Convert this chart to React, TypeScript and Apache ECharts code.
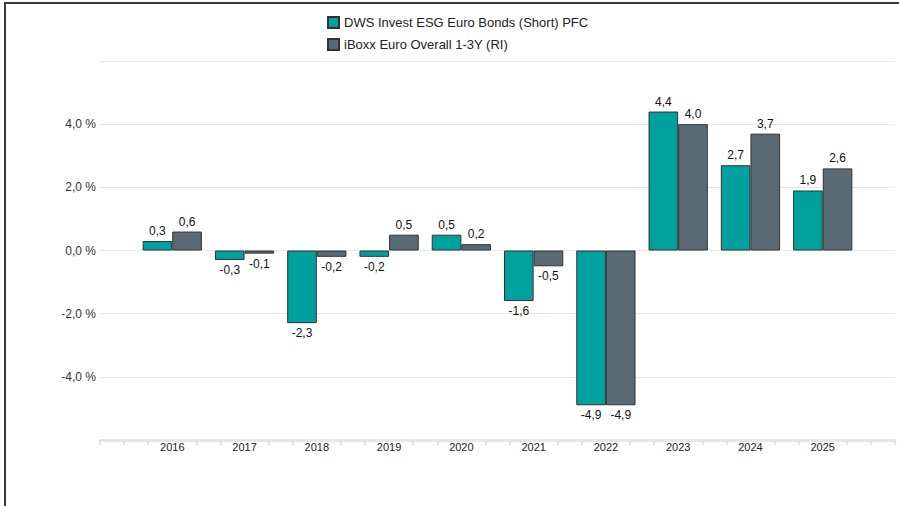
import React, { useEffect, useRef } from "react";
import * as echarts from "echarts";

const years = ["2016", "2017", "2018", "2019", "2020", "2021", "2022", "2023", "2024", "2025"];
const fundName = "DWS Invest ESG Euro Bonds (Short) PFC";
const benchName = "iBoxx Euro Overall 1-3Y (RI)";
const fundValues = [0.3, -0.3, -2.3, -0.2, 0.5, -1.6, -4.9, 4.4, 2.7, 1.9];
const benchValues = [0.6, -0.1, -0.2, 0.5, 0.2, -0.5, -4.9, 4.0, 3.7, 2.6];
const yTicks = [-6, -4, -2, 0, 2, 4, 6];

const FONT = "Arial, 'Liberation Sans', sans-serif";
const fmt = (v: number) => v.toFixed(1).replace(".", ",");

// padded categories so the axis spans one empty slot on each side
const categories = ["", ...years, ""];

function seriesData(values: number[]) {
  const items: any[] = values.map((v) => ({
    value: v,
    label: { position: v < 0 ? "bottom" : "top" },
  }));
  return [null, ...items, null];
}

const subTicks: number[] = [];
for (let i = 0; i <= (years.length + 1) * 3; i++) {
  if (i % 3 !== 0 || i === 0 || i === (years.length + 1) * 3) subTicks.push(i);
}

export default function App() {
  const ref = useRef<HTMLDivElement>(null);
  useEffect(() => {
    if (!ref.current) return;
    const chart = echarts.init(ref.current, null, { renderer: "svg" });
    const labelCfg = {
      show: true,
      distance: 4,
      fontSize: 12,
      fontFamily: FONT,
      color: "#111",
      formatter: (p: any) => fmt(p.value),
    };
    chart.setOption({
      animation: false,
      textStyle: { fontFamily: FONT },
      legend: {
        orient: "vertical",
        left: 322,
        top: 11,
        itemWidth: 11,
        itemHeight: 11,
        itemGap: 9,
        icon: "rect",
        textStyle: { fontSize: 13, color: "#222", fontFamily: FONT },
        data: [fundName, benchName],
      },
      grid: { left: 100, right: 4, top: 61, bottom: 66, containLabel: false },
      xAxis: [
        {
          type: "category",
          data: categories,
          boundaryGap: false,
          axisLine: { show: true, onZero: false, lineStyle: { color: "#e6e6e6", width: 3 } },
          axisTick: { show: false },
          axisLabel: { fontSize: 11, color: "#222", margin: 1, interval: 0, fontFamily: FONT },
          splitLine: { show: false },
        },
        {
          type: "value",
          position: "bottom",
          min: 0,
          max: (years.length + 1) * 3,
          interval: 1,
          axisLine: { show: false, onZero: false },
          axisLabel: { show: false },
          splitLine: { show: false },
          axisTick: {
            show: true,
            length: 5,
            customValues: subTicks,
            lineStyle: { color: "#e2e2e2", width: 2 },
          },
        },
      ],
      yAxis: {
        type: "value",
        min: yTicks[0],
        max: yTicks[yTicks.length - 1],
        interval: 2,
        axisLine: { show: false },
        axisTick: { show: false },
        axisLabel: {
          fontSize: 12,
          color: "#333",
          margin: 4,
          fontFamily: FONT,
          formatter: (v: number) =>
            v === yTicks[0] || v === yTicks[yTicks.length - 1] ? "" : fmt(v) + " %",
        },
        splitLine: { lineStyle: { color: "#e6e6e6", width: 1 } },
      },
      series: [
        {
          name: fundName,
          type: "bar",
          xAxisIndex: 0,
          data: seriesData(fundValues),
          barGap: "0%",
          barCategoryGap: "18%",
          itemStyle: { color: "#00a09f", borderColor: "#333", borderWidth: 1 },
          label: labelCfg,
        },
        {
          name: benchName,
          type: "bar",
          xAxisIndex: 0,
          data: seriesData(benchValues),
          barGap: "0%",
          barCategoryGap: "18%",
          itemStyle: { color: "#5a6a75", borderColor: "#333", borderWidth: 1 },
          label: labelCfg,
        },
      ],
      graphic: [
        { type: "rect", shape: { x: 4, y: 2, width: 895, height: 2 }, style: { fill: "#3a3a3a" } },
        { type: "rect", shape: { x: 4, y: 2, width: 2, height: 504 }, style: { fill: "#3a3a3a" } },
      ],
    });
    return () => chart.dispose();
  }, []);
  return (
    <div
      ref={ref}
      style={{ position: "fixed", left: 0, top: 0, width: 899, height: 506, background: "#fff" }}
    />
  );
}
